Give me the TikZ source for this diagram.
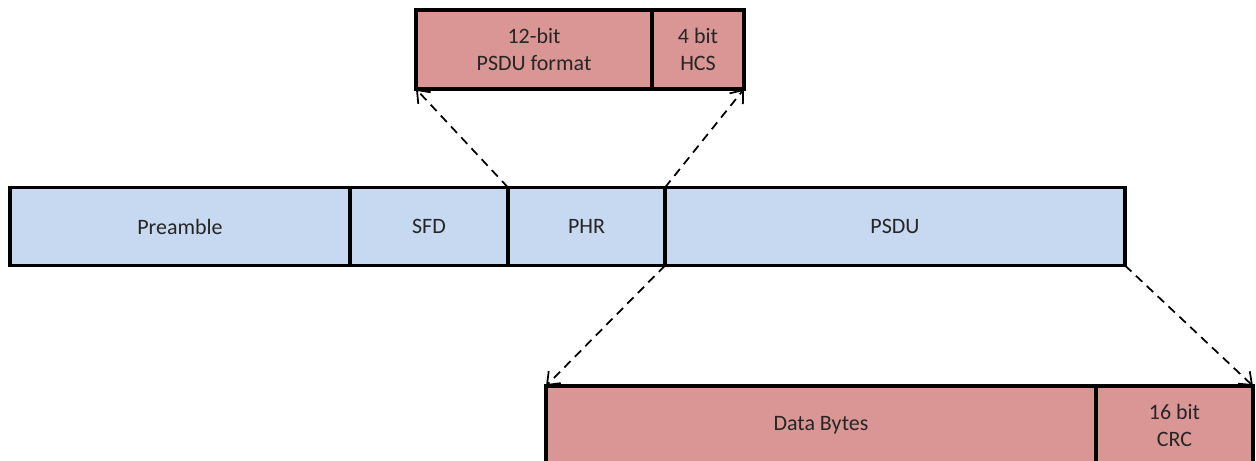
\documentclass[tikz,border=0pt]{standalone}
\usepackage{fontspec}
\setmainfont{Carlito}
\usetikzlibrary{arrows.meta, positioning}
\definecolor{fieldblue}{RGB}{198, 217, 241}
\definecolor{fieldred}{RGB}{217, 150, 148}
\definecolor{textgray}{RGB}{38, 38, 38}

\begin{document}
\begin{tikzpicture}[
			field/.style={rectangle, draw=black, line width=2.2pt, minimum height=1.56cm, inner sep=0pt, outer sep=0pt, align=center, text=textgray, font=\fontsize{12.5}{15.4}\selectfont},
			arrow/.style={-{Straight Barb[length=2.2mm, width=3.4mm]}, line width=1pt, dash pattern=on 5pt off 3.5pt}
		]
		\clip (0,0) rectangle (25.12,-9.22);
		% frame fields
		\node[field, fill=fieldblue, minimum width=6.8cm] (preamble) at (3.6,-4.53) {Preamble};
		\node[field, fill=fieldblue, minimum width=3.16cm, right=0cm of preamble] (sfd) {SFD};
		\node[field, fill=fieldblue, minimum width=3.14cm, right=0cm of sfd] (phr) {PHR};
		\node[field, fill=fieldblue, minimum width=9.2cm, right=0cm of phr] (psdu) {PSDU};
		% header fields
		\node[field, fill=fieldred, minimum width=4.72cm, minimum height=1.58cm] (format) at (10.68,-0.99) {12-bit\\PSDU format};
		\node[field, fill=fieldred, minimum width=1.84cm, minimum height=1.58cm, right=0cm of format] (hcs) {4 bit\\HCS};
		% payload fields
		\node[field, fill=fieldred, minimum width=11cm] (data) at (16.42,-8.5) {Data Bytes};
		\node[field, fill=fieldred, minimum width=3.14cm, right=0cm of data] (crc) {16 bit\\CRC};
		
		\draw[arrow] (phr.north west) -- (format.south west);
		\draw[arrow] (phr.north east) -- (hcs.south east);
		\draw[arrow] (psdu.south west) -- (data.north west);
		\draw[arrow] (psdu.south east) -- (crc.north east);
		\end{tikzpicture}
\end{document}
